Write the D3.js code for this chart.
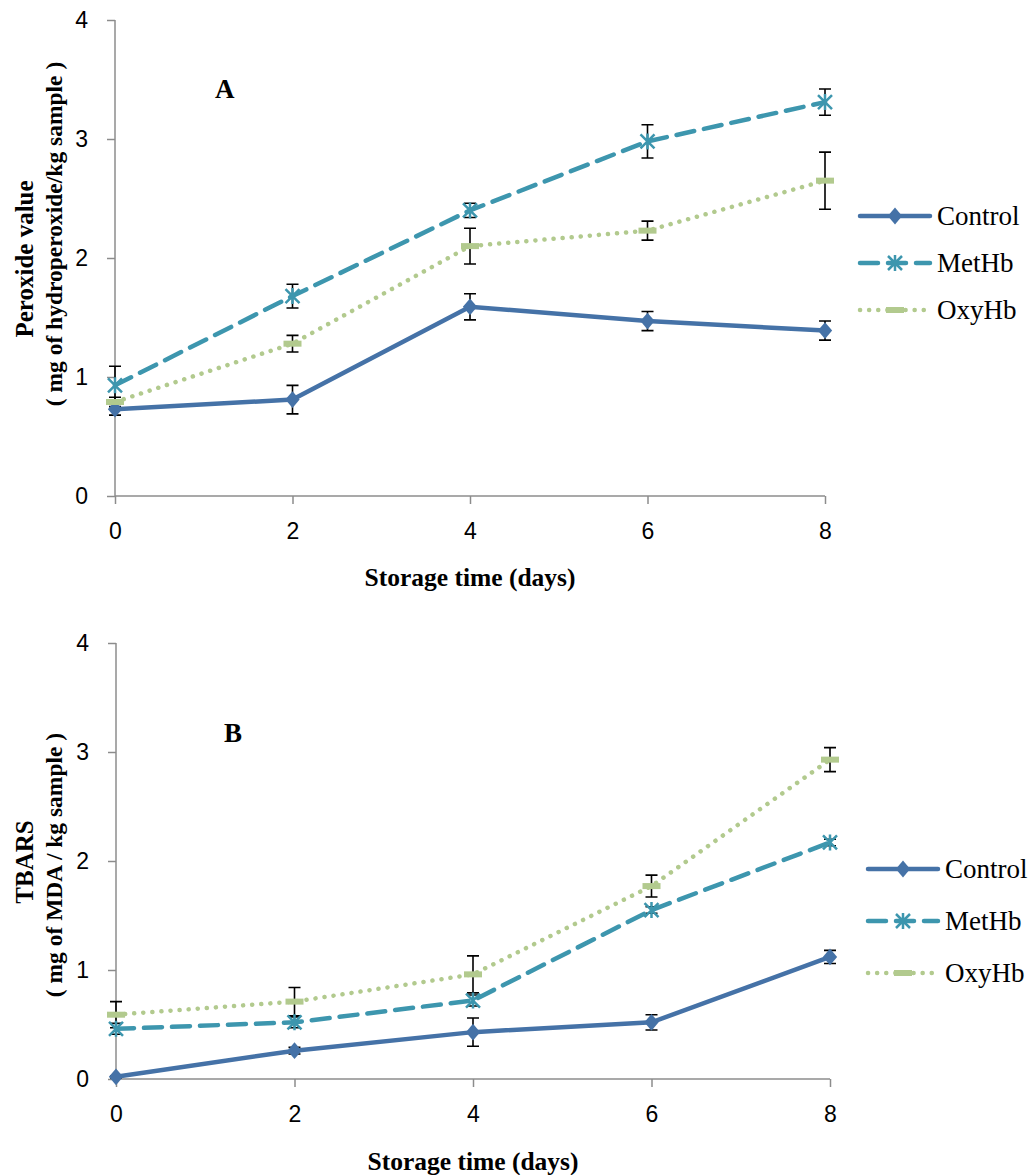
<!DOCTYPE html>
<html>
<head>
<meta charset="utf-8">
<script src="https://cdn.jsdelivr.net/npm/d3@7"></script>
<style>
  body { margin: 0; background: #fff; }
</style>
</head>
<body>
<svg id="chart" width="1031" height="1175"></svg>
<script>
// storage days and ticks
const days = [0, 2, 4, 6, 8];
const yTicks = [0, 1, 2, 3, 4];
const seriesNames = ["Control", "MetHb", "OxyHb"];

// Panel A: peroxide value
const pvControl = [0.73, 0.81, 1.59, 1.47, 1.39];
const pvControlErr = [0.05, 0.12, 0.11, 0.08, 0.08];
const pvMetHb = [0.93, 1.68, 2.40, 2.98, 3.31];
const pvMetHbErr = [0.16, 0.10, 0.06, 0.14, 0.11];
const pvOxyHb = [0.79, 1.28, 2.10, 2.23, 2.65];
const pvOxyHbErr = [0.04, 0.07, 0.15, 0.08, 0.24];

// Panel B: TBARS
const tbControl = [0.02, 0.26, 0.43, 0.52, 1.12];
const tbControlErr = [0.01, 0.03, 0.13, 0.07, 0.06];
const tbMetHb = [0.46, 0.52, 0.72, 1.55, 2.17];
const tbMetHbErr = [0.05, 0.05, 0.05, 0.03, 0.03];
const tbOxyHb = [0.59, 0.71, 0.96, 1.77, 2.93];
const tbOxyHbErr = [0.12, 0.13, 0.17, 0.10, 0.11];

const svg = d3.select("#chart");
const serif = "'Liberation Serif', 'Times New Roman', serif";
const sans = "'Liberation Sans', Arial, sans-serif";
const axisGray = "#8c8c8c";

const styles = {
  Control: { color: "#4572A7", dash: null, cap: "round" },
  MetHb:   { color: "#3D96AE", dash: "18,10", cap: "round" },
  OxyHb:   { color: "#B2CA8E", dash: "0.1,9", cap: "round" }
};

function drawMarker(g, name, x, y) {
  const c = styles[name].color;
  if (name === "Control") {
    g.append("path").attr("d", d3.symbol(d3.symbolDiamond2, 180)())
      .attr("transform", `translate(${x},${y}) scale(0.85,1)`).attr("fill", c);
  } else if (name === "MetHb") {
    const s = 7;
    g.append("path")
      .attr("d", `M${x-s},${y-s}L${x+s},${y+s}M${x-s},${y+s}L${x+s},${y-s}M${x},${y-s-1}L${x},${y+s+1}`)
      .attr("stroke", c).attr("stroke-width", 2.5).attr("fill", "none");
  } else {
    g.append("rect").attr("x", x - 9).attr("y", y - 3).attr("width", 18).attr("height", 6)
      .attr("fill", c);
  }
}

function drawPanel(p) {
  const x = d3.scaleLinear().domain([0, 8]).range([p.left, p.right]);
  const y = d3.scaleLinear().domain([0, 4]).range([p.bottom, p.top]);
  const g = svg.append("g");

  // axes
  const yAxis = d3.axisLeft(y).tickValues(yTicks).tickSize(8).tickPadding(19).tickFormat(d3.format("d"));
  const xAxis = d3.axisBottom(x).tickValues(days).tickSize(8).tickPadding(19).tickFormat(d3.format("d"));
  const ya = g.append("g").attr("transform", `translate(${p.left},0)`).call(yAxis);
  const xa = g.append("g").attr("transform", `translate(0,${p.bottom})`).call(xAxis);
  [ya, xa].forEach(a => {
    a.selectAll("path, line").attr("stroke", axisGray).attr("stroke-width", 1.5);
    a.select(".domain").attr("d", a === ya ? `M0,${p.top}V${p.bottom}` : `M${p.left},0H${p.right}`);
    a.selectAll("text").attr("font-family", sans).attr("font-size", 23).attr("fill", "#000");
  });

  // error bars
  p.series.forEach(s => {
    s.values.forEach((v, i) => {
      const cx = x(days[i]), y1 = y(v + s.err[i]), y2 = y(v - s.err[i]);
      g.append("path")
        .attr("d", `M${cx},${y1}V${y2}M${cx-6},${y1}H${cx+6}M${cx-6},${y2}H${cx+6}`)
        .attr("stroke", "#000").attr("stroke-width", 1.6).attr("fill", "none");
    });
  });

  // lines + markers
  const line = d3.line().x((d, i) => x(days[i])).y(d => y(d));
  p.series.forEach(s => {
    const st = styles[s.name];
    g.append("path").datum(s.values).attr("d", line)
      .attr("fill", "none").attr("stroke", st.color).attr("stroke-width", 4.5)
      .attr("stroke-linecap", st.cap).attr("stroke-dasharray", st.dash);
    s.values.forEach((v, i) => drawMarker(g, s.name, x(days[i]), y(v)));
  });

  // panel letter
  g.append("text").attr("x", p.letterX).attr("y", p.letterY)
    .attr("font-family", serif).attr("font-weight", "bold").attr("font-size", 27).text(p.letter);

  // y title (two lines)
  p.yTitle.forEach((t, i) => {
    g.append("text").attr("transform", `translate(${p.yTitleX[i]},${p.yTitleY[i]}) rotate(-90)`)
      .attr("text-anchor", "middle").attr("font-family", serif).attr("font-weight", "bold")
      .attr("font-size", p.yTitleSize[i]).text(t);
  });

  // x title
  g.append("text").attr("x", (p.left + p.right) / 2).attr("y", p.xTitleY)
    .attr("text-anchor", "middle").attr("font-family", serif).attr("font-weight", "bold")
    .attr("font-size", 25.5).text("Storage time (days)");

  // legend
  seriesNames.forEach((name, i) => {
    const ly = p.legendY + i * p.legendGap;
    const st = styles[name];
    g.append("path").attr("d", `M${p.legendX},${ly}H${p.legendX + 70}`)
      .attr("stroke", st.color).attr("stroke-width", 4.5)
      .attr("stroke-linecap", st.cap).attr("stroke-dasharray", st.dash);
    drawMarker(g, name, p.legendX + 35, ly);
    g.append("text").attr("x", p.legendX + 77).attr("y", ly + 9)
      .attr("font-family", serif).attr("font-size", 27).text(name);
  });
}

drawPanel({
  left: 115, right: 825, top: 20, bottom: 496,
  letter: "A", letterX: 215, letterY: 98,
  yTitle: ["Peroxide value", "( mg of hydroperoxide/kg sample )"],
  yTitleX: [33, 62], yTitleY: [259, 234], yTitleSize: [25, 23.5],
  xTitleY: 586,
  legendX: 860, legendY: 216, legendGap: 47,
  series: [
    { name: "Control", values: pvControl, err: pvControlErr },
    { name: "MetHb", values: pvMetHb, err: pvMetHbErr },
    { name: "OxyHb", values: pvOxyHb, err: pvOxyHbErr }
  ]
});

drawPanel({
  left: 116, right: 830, top: 643, bottom: 1079,
  letter: "B", letterX: 224, letterY: 742,
  yTitle: ["TBARS", "( mg of MDA / kg sample )"],
  yTitleX: [33, 62], yTitleY: [862, 865], yTitleSize: [25, 23.5],
  xTitleY: 1170,
  legendX: 868, legendY: 869, legendGap: 52,
  series: [
    { name: "Control", values: tbControl, err: tbControlErr },
    { name: "MetHb", values: tbMetHb, err: tbMetHbErr },
    { name: "OxyHb", values: tbOxyHb, err: tbOxyHbErr }
  ]
});
</script>
</body>
</html>
